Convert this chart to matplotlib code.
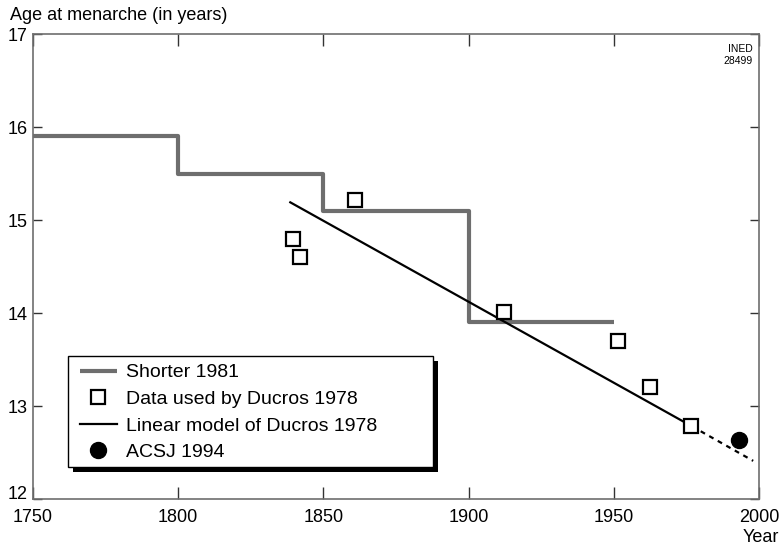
import matplotlib
matplotlib.use("Agg")
import matplotlib.pyplot as plt
from matplotlib.patches import Rectangle

plt.rcParams['font.family'] = ['Liberation Sans', 'DejaVu Sans']

# Shorter 1981 (step series)
shorter_years = [1750, 1800, 1850, 1900, 1950]
shorter_ages = [15.9, 15.5, 15.1, 13.9, 13.9]

# Data used by Ducros 1978
ducros_years = [1839.6, 1842.1, 1860.8, 1912.1, 1951.3, 1962.3, 1976.5]
ducros_ages = [14.80, 14.60, 15.21, 14.01, 13.70, 13.20, 12.79]

# Linear model of Ducros 1978 (solid part, then dotted extrapolation)
model_years = [1838.6, 1977.0]
model_ages = [15.19, 12.78]
extrap_years = [1977.0, 1998.0]
extrap_ages = [12.78, 12.41]

# ACSJ 1994
acsj_years = [1993.0]
acsj_ages = [12.63]

xticks = [1750, 1800, 1850, 1900, 1950, 2000]
yticks = [12, 13, 14, 15, 16, 17]

W, H = 781, 547
fig = plt.figure(figsize=(W / 100, H / 100), dpi=100)
ax = fig.add_axes([33 / W, (H - 499) / H, 726 / W, 465 / H])

grey = '#6e6e6e'
ax.step(shorter_years, shorter_ages, where='post', color=grey, lw=3.0,
        label='Shorter 1981', solid_capstyle='butt', zorder=2)
ax.plot(ducros_years, ducros_ages, ls='none', marker='s', ms=10, mfc='white',
        mec='black', mew=1.6, label='Data used by Ducros 1978', zorder=4)
ax.plot(model_years, model_ages, color='black', lw=1.6,
        label='Linear model of Ducros 1978', zorder=3)
ax.plot(extrap_years, extrap_ages, color='black', lw=1.6, ls=(0, (2.2, 2.2)), zorder=3)
ax.plot(acsj_years, acsj_ages, ls='none', marker='o', ms=11.5, color='black',
        label='ACSJ 1994', zorder=5)

ax.set_xlim(1750, 2000)
ax.set_ylim(12, 17)
ax.set_xticks(xticks)
ax.set_yticks(yticks)
ax.tick_params(axis='both', direction='in', length=8.5, width=1.0, color='#333333',
               labelsize=13, top=True, right=True)
ax.tick_params(axis='x', pad=7)
ax.tick_params(axis='y', length=6.5, pad=4)
ax.get_yticklabels()[0].set_va('baseline')
for s in ax.spines.values():
    s.set_color(grey)
    s.set_linewidth(1.2)

fig.text(10 / W, 1 - 16 / H, 'Age at menarche (in years)', fontsize=13,
         ha='left', va='center')
fig.text(779 / W, 1 - 538 / H, 'Year', fontsize=13, ha='right', va='center')
fig.text(753 / W, 1 - 49 / H, 'INED', fontsize=7.5, ha='right', va='center')
fig.text(753 / W, 1 - 61 / H, '28499', fontsize=7.5, ha='right', va='center')

# legend frame + shadow drawn explicitly (pixel box of the reference)
bx0, by0, bx1, by1 = 68, 356, 433, 467
shadow = Rectangle((bx0 + 5, H - by1 - 5), bx1 - bx0, by1 - by0, transform=None,
                   facecolor='black', edgecolor='none', zorder=8)
frame = Rectangle((bx0, H - by1), bx1 - bx0, by1 - by0, transform=None,
                  facecolor='white', edgecolor='black', lw=1.0, zorder=9)
for p in (shadow, frame):
    p.set_clip_on(False)
    ax.add_artist(p)

leg = ax.legend(loc='upper left', bbox_to_anchor=((74 - 33) / 726, 1 - (358 - 34) / 465),
                fontsize=14, frameon=False, borderpad=0.3, labelspacing=0.46,
                handlelength=1.9, handletextpad=0.5, borderaxespad=0.0)
leg.set_zorder(10)

fig.savefig('out.png', dpi=100)
